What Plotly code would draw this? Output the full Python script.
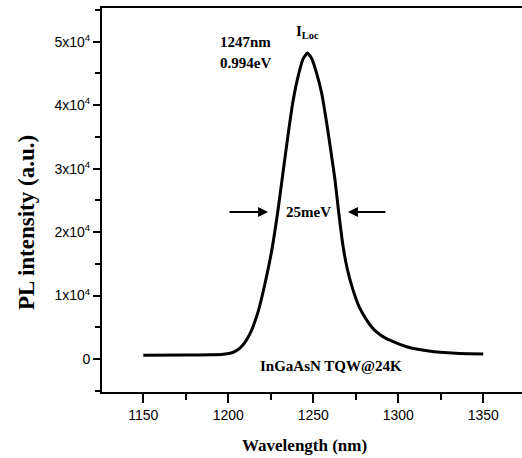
import plotly.graph_objects as go

# Data
wavelength_nm = [1150, 1175, 1190, 1197, 1201, 1204, 1207, 1210, 1213, 1217.6, 1221.6, 1225.5,
                 1229, 1232, 1235, 1238, 1241.5, 1244, 1246.5, 1249, 1252, 1255, 1258, 1260.5,
                 1262.8, 1265, 1267.5, 1270, 1273, 1277, 1282, 1287, 1293, 1305, 1318, 1334, 1350]
intensity = [600, 620, 660, 750, 900, 1200, 1750, 2700, 4100, 7500, 11900, 17000,
             23000, 29000, 35000, 40500, 45000, 47300, 48200, 47400, 45000, 41800, 37000, 32500,
             28200, 23000, 17800, 14200, 11200, 8200, 5900, 4300, 3200, 1940, 1260, 900, 790]

y_tick_alias = {"10000": "1x10<sup>4</sup>", "20000": "2x10<sup>4</sup>",
                "30000": "3x10<sup>4</sup>", "40000": "4x10<sup>4</sup>",
                "50000": "5x10<sup>4</sup>"}

peak_label = ["1247nm", "0.994eV"]
fwhm_label = "25meV"
sample_label = "InGaAsN TQW@24K"
x_title = "Wavelength (nm)"
y_title = "PL intensity (a.u.)"

serif = "Liberation Serif"
sans = "Liberation Sans"

fig = go.Figure()
fig.add_trace(go.Scatter(x=wavelength_nm, y=intensity, mode="lines",
                         line=dict(color="black", width=3, shape="spline", smoothing=0.5),
                         showlegend=False, hoverinfo="skip"))

ann = []
ann.append(dict(x=1209.9, y=49960, text="<b>" + peak_label[0] + "</b>", showarrow=False,
                font=dict(family=serif, size=15, color="black")))
ann.append(dict(x=1209.9, y=46650, text="<b>" + peak_label[1] + "</b>", showarrow=False,
                font=dict(family=serif, size=15, color="black")))
ann.append(dict(x=1246.5, y=51500, text="<b>I<sub>Loc</sub></b>", showarrow=False,
                font=dict(family=serif, size=15, color="black")))
ann.append(dict(x=1247.2, y=23170, text="<b>" + fwhm_label + "</b>", showarrow=False,
                font=dict(family=serif, size=15, color="black")))
ann.append(dict(x=1260.4, y=-1100, text="<b>" + sample_label + "</b>", showarrow=False,
                font=dict(family=serif, size=15, color="black")))
# FWHM arrows
ann.append(dict(x=1223.4, y=23170, ax=1199.8, ay=23170, xref="x", yref="y", axref="x", ayref="y",
                text="", showarrow=True, arrowhead=2, arrowsize=1, arrowwidth=2, arrowcolor="black"))
ann.append(dict(x=1270.4, y=23170, ax=1293.3, ay=23170, xref="x", yref="y", axref="x", ayref="y",
                text="", showarrow=True, arrowhead=2, arrowsize=1, arrowwidth=2, arrowcolor="black"))
# axis titles
ann.append(dict(x=0.483, y=-0.1406, xref="paper", yref="paper", xanchor="center", yanchor="middle",
                text="<b>" + x_title + "</b>", showarrow=False,
                font=dict(family=serif, size=17, color="black")))
ann.append(dict(x=-0.181, y=0.4427, xref="paper", yref="paper", xanchor="center", yanchor="middle",
                text="<b>" + y_title + "</b>", showarrow=False, textangle=-90,
                font=dict(family=serif, size=23, color="black")))

fig.update_layout(
    width=522, height=458,
    margin=dict(l=102, r=0, t=8, b=66),
    plot_bgcolor="white", paper_bgcolor="white",
    annotations=ann,
    xaxis=dict(range=[1125.7, 1372.8], tickmode="linear", tick0=1150, dtick=50,
               ticks="outside", ticklen=9, tickwidth=2,
               tickcolor="black", showline=True, linewidth=2, linecolor="black", mirror=True,
               showgrid=False, zeroline=False,
               tickfont=dict(family=sans, size=14, color="black"),
               minor=dict(tickmode="linear", tick0=1125, dtick=25, ticks="outside", ticklen=6,
                          tickwidth=2, tickcolor="black", showgrid=False)),
    yaxis=dict(range=[-5200, 55310], tickmode="linear", tick0=0, dtick=10000, tickformat="d",
               labelalias=y_tick_alias, ticks="outside",
               ticklen=7, tickwidth=2, tickcolor="black", showline=True, linewidth=2,
               linecolor="black", showgrid=False, zeroline=False,
               tickfont=dict(family=sans, size=14, color="black"),
               minor=dict(tickmode="linear", tick0=0, dtick=5000, ticks="outside", ticklen=5,
                          tickwidth=2, tickcolor="black", showgrid=False)),
)

fig.write_html("out.html")
